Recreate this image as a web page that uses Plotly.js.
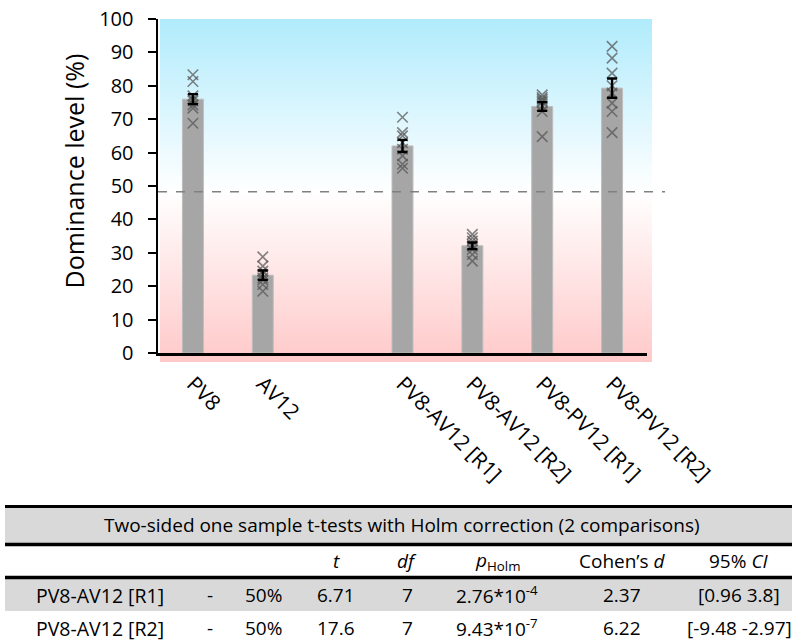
<!DOCTYPE html>
<html>
<head>
<meta charset="utf-8">
<script src="https://cdn.plot.ly/plotly-3.0.1.min.js"></script>
<style>html,body{margin:0;padding:0;background:#fff;}#chart{width:792px;height:643px;}</style>
</head>
<body>
<div id="chart"></div>
<script>
// ---------- data ----------
const categories = ['PV8', 'AV12', 'PV8-AV12 [R1]', 'PV8-AV12 [R2]', 'PV8-PV12 [R1]', 'PV8-PV12 [R2]'];
const axisOrder = ['PV8', 'AV12', ' ', 'PV8-AV12 [R1]', 'PV8-AV12 [R2]', 'PV8-PV12 [R1]', 'PV8-PV12 [R2]'];
const meanLevel = [76.0, 23.3, 62.0, 32.1, 73.8, 79.3];
const semLevel = [1.5, 1.4, 1.8, 1.0, 1.3, 2.9];
const pointsPV8 = [83.3, 81.3, 77.0, 76.0, 75.5, 74.3, 73.3, 68.8];
const pointsAV12 = [28.8, 26.0, 24.5, 23.5, 22.5, 21.8, 20.5, 18.5];
const pointsAVR1 = [70.6, 66.0, 65.0, 63.0, 61.0, 59.0, 56.5, 55.3];
const pointsAVR2 = [35.5, 34.5, 33.5, 32.5, 32.0, 31.0, 29.5, 27.5];
const pointsPVR1 = [77.3, 76.5, 76.0, 75.5, 75.0, 74.0, 72.3, 64.8];
const pointsPVR2 = [91.8, 88.3, 83.8, 80.0, 77.8, 74.8, 72.3, 66.0];
const chanceLevel = 48.3;
const yTicks = [0, 10, 20, 30, 40, 50, 60, 70, 80, 90, 100];
const yTitle = 'Dominance level (%)';

// table
const tableTitle = 'Two-sided one sample t-tests with Holm correction (2 comparisons)';
const tableHeader = ['', '', '', '<i>t</i>', '<i>df</i>', '<i>p</i><sub>Holm</sub>', 'Cohen’s <i>d</i>', '95% <i>CI</i>'];
const rowLabels = ['PV8-AV12 [R1]', 'PV8-AV12 [R2]'];
const rowDash = ['-', '-'];
const rowRef = ['50%', '50%'];
const tValues = ['6.71', '17.6'];
const dfValues = ['7', '7'];
const pHolm = ['2.76*10<sup>-4</sup>', '9.43*10<sup>-7</sup>'];
const cohensD = ['2.37', '6.22'];
const ciValues = ['[0.96 3.8]', '[-9.48 -2.97]'];

// ---------- layout helpers ----------
const W = 792, H = 643;
const M = {l: 158, r: 145, t: 19, b: 290};
const PW = W - M.l - M.r, PH = H - M.t - M.b;
const px = x => (x - M.l) / PW;
const py = y => (H - M.b - y) / PH;
const FONT = 'Open Sans, sans-serif';

const allPoints = [pointsPV8, pointsAV12, pointsAVR1, pointsAVR2, pointsPVR1, pointsPVR2];
const scatX = [], scatY = [];
allPoints.forEach((arr, i) => arr.forEach(v => { scatX.push(categories[i]); scatY.push(v); }));

const traces = [
  {
    type: 'bar', x: categories, y: meanLevel, width: 0.3,
    marker: {color: '#a6a6a6', line: {color: '#bdbdbd', width: 1}},
    hoverinfo: 'x+y', showlegend: false
  },
  {
    type: 'scatter', mode: 'markers', x: scatX, y: scatY,
    marker: {symbol: 'x-thin-open', size: 10.5, color: 'rgba(85,85,85,0.72)', line: {width: 1.6, color: 'rgba(85,85,85,0.72)'}},
    showlegend: false, hoverinfo: 'x+y'
  },
  {
    type: 'scatter', mode: 'markers', x: categories, y: meanLevel,
    marker: {size: 1, color: 'rgba(0,0,0,0)'},
    error_y: {type: 'data', array: semLevel, visible: true, color: '#000', thickness: 2.4, width: 5},
    showlegend: false, hoverinfo: 'skip'
  }
];

// background gradient
const S = ((100 - chanceLevel) / 100 * PH) / (PH + 9);
const svg = `<svg xmlns='http://www.w3.org/2000/svg' width='100' height='100' viewBox='0 0 100 100' preserveAspectRatio='none'><defs><linearGradient id='g' x1='0' y1='0' x2='0' y2='1'><stop offset='0' stop-color='#b0ebfc'/><stop offset='${S}' stop-color='#ffffff'/><stop offset='1' stop-color='#ffc9c9'/></linearGradient></defs><rect x='0' y='0' width='100' height='100' fill='url(#g)'/></svg>`;
const bgUri = 'data:image/svg+xml;base64,' + btoa(svg);

const shapes = [
  {type: 'line', xref: 'paper', yref: 'y', x0: 0, x1: px(665), y0: chanceLevel, y1: chanceLevel,
   line: {color: '#808080', width: 1.6, dash: 'dash'}},
  // table backgrounds
  {type: 'rect', xref: 'paper', yref: 'paper', x0: px(5), x1: px(800), y0: py(508), y1: py(543), fillcolor: '#d9d9d9', line: {width: 0}, layer: 'below'},
  {type: 'rect', xref: 'paper', yref: 'paper', x0: px(5), x1: px(800), y0: py(579), y1: py(611), fillcolor: '#d9d9d9', line: {width: 0}, layer: 'below'},
  // table rules
  {type: 'line', xref: 'paper', yref: 'paper', x0: px(5), x1: px(800), y0: py(506.5), y1: py(506.5), line: {color: '#000', width: 3}},
  {type: 'line', xref: 'paper', yref: 'paper', x0: px(5), x1: px(800), y0: py(544.5), y1: py(544.5), line: {color: '#000', width: 3.5}},
  {type: 'line', xref: 'paper', yref: 'paper', x0: px(5), x1: px(800), y0: py(577.5), y1: py(577.5), line: {color: '#000', width: 3.5}}
];

const annotations = [];
const tf = {family: FONT, size: 19, color: '#000'};
annotations.push({x: px(73), y: py(171.5), xref: 'paper', yref: 'paper', text: yTitle, textangle: -90, showarrow: false,
  xanchor: 'center', yanchor: 'middle', font: {family: FONT, size: 25, color: '#000'}});
annotations.push({x: px(402), y: py(525), xref: 'paper', yref: 'paper', text: tableTitle, showarrow: false,
  xanchor: 'center', yanchor: 'middle', font: tf});
const colX = [100, 210, 263, 336, 407, 497, 622, 739];
tableHeader.forEach((h, i) => { if (h) annotations.push({x: px(colX[i]), y: py(561), xref: 'paper', yref: 'paper', text: h, showarrow: false, xanchor: 'center', yanchor: 'middle', font: tf}); });
const rowsY = [595, 628];
rowLabels.forEach((lab, r) => {
  const cells = [lab, rowDash[r], rowRef[r], tValues[r], dfValues[r], pHolm[r], cohensD[r], ciValues[r]];
  cells.forEach((t, i) => annotations.push({x: px(colX[i]), y: py(rowsY[r]), xref: 'paper', yref: 'paper', text: t, showarrow: false, xanchor: 'center', yanchor: 'middle', font: {family: FONT, size: i === 0 ? 19.5 : 19, color: '#000'}}));
});

const layout = {
  width: W, height: H, margin: M,
  paper_bgcolor: '#fff', plot_bgcolor: 'rgba(0,0,0,0)',
  font: {family: FONT, size: 18, color: '#000'},
  xaxis: {
    type: 'category', categoryorder: 'array', categoryarray: axisOrder, range: [-0.5, 6.5],
    tickangle: 45, tickfont: {family: FONT, size: 21, color: '#000'}, ticks: '', ticklabelstandoff: 8,
    showgrid: false, zeroline: false,
    showline: true, linecolor: '#000', linewidth: 2.5, fixedrange: true
  },
  yaxis: {
    range: [0, 100], tickvals: yTicks, ticks: 'outside', ticklen: 8, tickwidth: 2, tickcolor: '#000',
    showline: true, linecolor: '#000', linewidth: 2.5, showgrid: false, zeroline: false,
    tickfont: {family: FONT, size: 20, color: '#000'}, ticklabelstandoff: 10,
    fixedrange: true
  },
  bargap: 0.5,
  shapes: shapes,
  annotations: annotations,
  images: [{source: bgUri, xref: 'paper', yref: 'paper', x: px(160), y: 1, sizex: (652 - 160) / PW, sizey: (PH + 9) / PH,
    xanchor: 'left', yanchor: 'top', sizing: 'stretch', layer: 'below'}]
};

Plotly.newPlot('chart', traces, layout, {displayModeBar: false, staticPlot: true});
</script>
</body>
</html>
